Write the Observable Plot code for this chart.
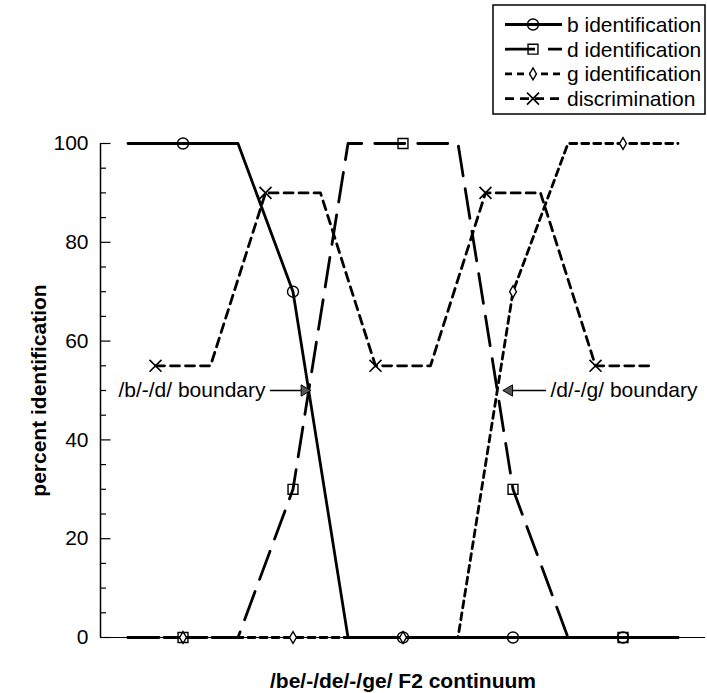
<!DOCTYPE html>
<html><head><meta charset="utf-8">
<script src="https://cdn.jsdelivr.net/npm/d3@7"></script>
<script src="https://cdn.jsdelivr.net/npm/@observablehq/plot@0.6"></script>
<style>
body{margin:0;background:#fff;}
#wrap{position:relative;width:707px;height:693px;}
#wrap svg{position:absolute;left:0;top:0;}
</style></head><body><div id="wrap"></div>
<script>
// ---- data ----
const stimuli = [1, 2, 3, 4, 5, 6, 7, 8, 9, 10, 11];
const bIdent = [100, 100, 100, 70, 0, 0, 0, 0, 0, 0, 0];
const dIdent = [0, 0, 0, 30, 100, 100, 100, 30, 0, 0, 0];
const gIdent = [0, 0, 0, 0, 0, 0, 0, 70, 100, 100, 100];
const discPairs = [1.5, 2.5, 3.5, 4.5, 5.5, 6.5, 7.5, 8.5, 9.5, 10.5];
const discrim = [55, 55, 90, 90, 55, 55, 90, 90, 55, 55];
const markedStimuli = [2, 4, 6, 8, 10];
const markedPairs = [1.5, 3.5, 5.5, 7.5, 9.5];
const yMajorTicks = [0, 20, 40, 60, 80, 100];
const yMinorTicks = [5, 10, 15, 25, 30, 35, 45, 50, 55, 65, 70, 75, 85, 90, 95];
const seriesNames = ["b identification", "d identification", "g identification", "discrimination"];
const xTitle = "/be/-/de/-/ge/ F2 continuum";
const yTitle = "percent identification";
const boundaryLabels = ["/b/-/d/ boundary", "/d/-/g/ boundary"];
const boundaryTextX = [3.5, 8.68];
const boundaryTail = [3.58, 8.6];
const boundaryTip = [4.28, 7.86];
const boundaryY = [50, 50];

// ---- styles ----
const FONT = "'Liberation Sans', Arial, Helvetica, sans-serif";
const styles = [
  {dash: null, symbol: "circle", r: 5.5},
  {dash: "30,13", symbol: "square", r: 5.6},
  {dash: "7,5", symbol: "diamond", r: 3.6},
  {dash: "9,6", symbol: "times", r: 5.5}
];
const SW = 2.8;
// inward-pointing tick glyph: a horizontal stroke of length r to the right
const tickGlyph = {draw(ctx, size) { const l = Math.sqrt(size / Math.PI); ctx.moveTo(0, 0); ctx.lineTo(l, 0); }};

const lineData = (xs, ys) => xs.map((x, i) => ({x, y: ys[i]}));
const b = lineData(stimuli, bIdent);
const d = lineData(stimuli, dIdent);
const g = lineData(stimuli, gIdent);
const disc = lineData(discPairs, discrim);
const pick = (arr, keys) => arr.filter(p => keys.includes(p.x));

const ann = boundaryLabels.map((label, i) => ({
  label, tx: boundaryTextX[i], x1: boundaryTail[i], x2: boundaryTip[i], y: boundaryY[i], dir: i === 0 ? 1 : -1
}));
const annR = ann.filter(a => a.dir > 0);
const annL = ann.filter(a => a.dir < 0);

const chart = Plot.plot({
  width: 707, height: 693,
  marginLeft: 100, marginRight: 2, marginTop: 143, marginBottom: 56,
  style: {fontFamily: FONT, fontSize: "21px", background: "transparent", color: "black"},
  x: {domain: [0.5, 11.5], axis: null},
  y: {domain: [0, 100], axis: null},
  marks: [
    Plot.dot(yMinorTicks, {x: () => 0.5, y: v => v, symbol: tickGlyph, r: 5.5, stroke: "black", strokeWidth: 1.2}),
    Plot.dot(yMajorTicks, {x: () => 0.5, y: v => v, symbol: tickGlyph, r: 10, stroke: "black", strokeWidth: 1.2}),
    Plot.axisY(yMajorTicks, {tickSize: 0, tickPadding: 12, label: null, fontSize: 21}),
    Plot.ruleX([0.5], {strokeWidth: 1.5}),
    Plot.ruleY([0], {strokeWidth: 1.2}),
    Plot.line(g, {x: "x", y: "y", strokeWidth: SW, strokeDasharray: styles[2].dash}),
    Plot.line(d, {x: "x", y: "y", strokeWidth: SW, strokeDasharray: styles[1].dash}),
    Plot.line(disc, {x: "x", y: "y", strokeWidth: SW, strokeDasharray: styles[3].dash}),
    Plot.line(b, {x: "x", y: "y", strokeWidth: SW}),
    Plot.dot(pick(g, markedStimuli), {x: "x", y: "y", symbol: "diamond", r: styles[2].r, stroke: "black", fill: "white", strokeWidth: 1.4}),
    Plot.dot(pick(d, markedStimuli), {x: "x", y: "y", symbol: "square", r: styles[1].r, stroke: "black", fill: "none", strokeWidth: 1.4}),
    Plot.dot(pick(b, markedStimuli), {x: "x", y: "y", symbol: "circle", r: styles[0].r, stroke: "black", fill: "none", strokeWidth: 1.4}),
    Plot.dot(pick(disc, markedPairs), {x: "x", y: "y", symbol: "times", r: styles[3].r, stroke: "black", strokeWidth: 1.6}),
    // boundary annotations
    Plot.text(annR, {x: "tx", y: "y", text: "label", textAnchor: "end", fontSize: 21}),
    Plot.text(annL, {x: "tx", y: "y", text: "label", textAnchor: "start", fontSize: 21}),
    Plot.link(ann, {x1: "x1", x2: "x2", y1: "y", y2: "y", strokeWidth: 1.5}),
    Plot.dot(annR, {x: "x2", y: "y", symbol: "triangle", r: 4.2, rotate: 90, dx: -4, fill: "#555", stroke: "black", strokeWidth: 1}),
    Plot.dot(annL, {x: "x2", y: "y", symbol: "triangle", r: 4.2, rotate: -90, dx: 4, fill: "#555", stroke: "black", strokeWidth: 1}),
    // axis titles
    Plot.text([xTitle], {frameAnchor: "bottom", lineAnchor: "middle", textAnchor: "middle", dy: 44, fontWeight: "bold", fontSize: 21}),
    Plot.text([yTitle], {frameAnchor: "left", lineAnchor: "middle", textAnchor: "middle", rotate: -90, dx: -61, fontWeight: "bold", fontSize: 21})
  ]
});
document.getElementById("wrap").appendChild(chart);

// ---- legend ----
const leg = d3.select("#wrap").append("svg")
  .attr("width", 707).attr("height", 125)
  .style("font-family", FONT);
const box = {x: 493, y: 5, w: 212, h: 109};
leg.append("rect").attr("x", box.x).attr("y", box.y).attr("width", box.w).attr("height", box.h)
  .attr("fill", "white").attr("stroke", "black").attr("stroke-width", 1.5);
const sym = {circle: d3.symbolCircle, square: d3.symbolSquare, diamond: d3.symbolDiamond, times: d3.symbolTimes};
seriesNames.forEach((name, i) => {
  const yy = 24.5 + i * 24.7;
  const st = styles[i];
  leg.append("line").attr("x1", 505).attr("x2", 562).attr("y1", yy).attr("y2", yy)
    .attr("stroke", "black").attr("stroke-width", SW)
    .attr("stroke-dasharray", st.dash);
  leg.append("path").attr("transform", `translate(533,${yy})`)
    .attr("d", d3.symbol(sym[st.symbol], Math.PI * st.r * st.r)())
    .attr("fill", st.symbol === "diamond" ? "white" : "none").attr("stroke", "black").attr("stroke-width", st.symbol === "times" ? 1.6 : 1.4);
  leg.append("text").attr("x", 567).attr("y", yy).attr("dy", "0.35em")
    .attr("font-size", 21).text(name);
});
</script>
</body></html>
